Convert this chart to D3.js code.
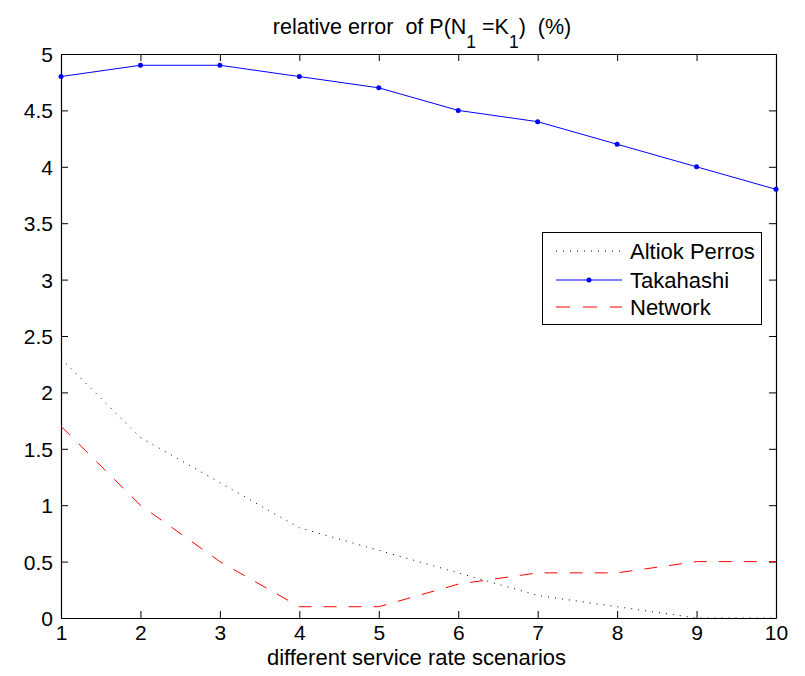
<!DOCTYPE html>
<html><head><meta charset="utf-8">
<script src="https://cdn.jsdelivr.net/npm/d3@7"></script>
<style>body{margin:0;background:#fff}svg{display:block}text{font-family:"Liberation Sans",Arial,sans-serif;white-space:pre}</style>
</head><body>
<script>
const scenarios = [1,2,3,4,5,6,7,8,9,10];
const altiok = [2.3,1.6,1.2,0.8,0.6,0.4,0.2,0.1,0.0,0.0];
const takahashi = [4.8,4.9,4.9,4.8,4.7,4.5,4.4,4.2,4.0,3.8];
const network = [1.7,1.0,0.5,0.1,0.1,0.3,0.4,0.4,0.5,0.5];
const yTicks = [0,0.5,1,1.5,2,2.5,3,3.5,4,4.5,5];
const seriesNames = ["Altiok Perros","Takahashi","Network"];

const W=805,H=676, L=61,R=776,T=54,B=618;
const svg=d3.select("body").append("svg").attr("width",W).attr("height",H);
const x=d3.scaleLinear().domain([1,10]).range([L,R]);
const y=d3.scaleLinear().domain([0,5]).range([B,T]);

const fs=21;
const gB=svg.append("g").attr("transform",`translate(0,${B})`)
  .call(d3.axisBottom(x).tickValues(scenarios).tickFormat(d3.format("d")).tickSizeInner(-7).tickSizeOuter(0));
const gT=svg.append("g").attr("transform",`translate(0,${T})`)
  .call(d3.axisTop(x).tickValues(scenarios).tickFormat("").tickSizeInner(-7).tickSizeOuter(0));
const gL=svg.append("g").attr("transform",`translate(${L},0)`)
  .call(d3.axisLeft(y).tickValues(yTicks).tickFormat(d=>d3.format("")(d)).tickSizeInner(-7).tickSizeOuter(0).tickPadding(8));
const gR=svg.append("g").attr("transform",`translate(${R},0)`)
  .call(d3.axisRight(y).tickValues(yTicks).tickFormat("").tickSizeInner(-7).tickSizeOuter(0));
[gB,gT,gL,gR].forEach(g=>{
  g.select(".domain").attr("stroke","#000").attr("stroke-width",1.2);
  g.selectAll(".tick line").attr("stroke","#000").attr("stroke-width",1);
  g.selectAll("text").attr("font-size",fs).attr("fill","#000").style("font-family",'"Liberation Sans",Arial,sans-serif');
});
gB.selectAll(".tick text").attr("y",22).attr("dy",0);
gL.selectAll(".tick text").attr("dy","0.36em");

const line=d3.line().x((d,i)=>x(scenarios[i])).y(d=>y(d));
svg.append("clipPath").attr("id","c").append("rect").attr("x",L).attr("y",T-3).attr("width",R-L+3).attr("height",B-T+3);
const pg=svg.append("g").attr("clip-path","url(#c)");
pg.append("path").datum(altiok).attr("d",line).attr("fill","none").attr("stroke","#000").attr("stroke-width",1).attr("stroke-dasharray","1,6");
pg.append("path").datum(network).attr("d",line).attr("fill","none").attr("stroke","#ff0000").attr("stroke-width",1).attr("stroke-dasharray","13,12");
pg.append("path").datum(takahashi).attr("d",line).attr("fill","none").attr("stroke","#0000ff").attr("stroke-width",1);
svg.append("g").selectAll("circle").data(takahashi).join("circle")
  .attr("cx",(d,i)=>x(scenarios[i])).attr("cy",d=>y(d)).attr("r",2.5).attr("fill","#0000ff");

// title
const title=svg.append("text").attr("x",422).attr("y",34).attr("text-anchor","middle").attr("font-size",21.5).attr("fill","#000").attr("xml:space","preserve");
title.append("tspan").text("relative error  of P(N");
title.append("tspan").attr("font-size",17.5).attr("dy",14).text("1");
title.append("tspan").attr("dy",-14).text(" =K");
title.append("tspan").attr("font-size",17.5).attr("dy",14).text("1");
title.append("tspan").attr("dy",-14).text(")  (%)");

// x label
svg.append("text").attr("x",416.5).attr("y",665).attr("text-anchor","middle").attr("font-size",22).attr("fill","#000").text("different service rate scenarios");

// legend
const lg=svg.append("g");
lg.append("rect").attr("x",542.5).attr("y",232.5).attr("width",219).attr("height",92).attr("fill","#fff").attr("stroke","#000").attr("stroke-width",1);
const ly=[251,280,307];
const styles=[{c:"#000",da:"1,6"},{c:"#0000ff",da:null},{c:"#ff0000",da:"14,13"}];
seriesNames.forEach((n,i)=>{
  const l=lg.append("line").attr("x1",556).attr("x2",622).attr("y1",ly[i]).attr("y2",ly[i]).attr("stroke",styles[i].c).attr("stroke-width",1);
  if(styles[i].da) l.attr("stroke-dasharray",styles[i].da);
  lg.append("text").attr("x",630).attr("y",ly[i]).attr("dy","0.36em").attr("font-size",22).attr("fill","#000").text(n);
});
lg.append("circle").attr("cx",589).attr("cy",ly[1]).attr("r",2.5).attr("fill","#0000ff");
</script>
</body></html>
